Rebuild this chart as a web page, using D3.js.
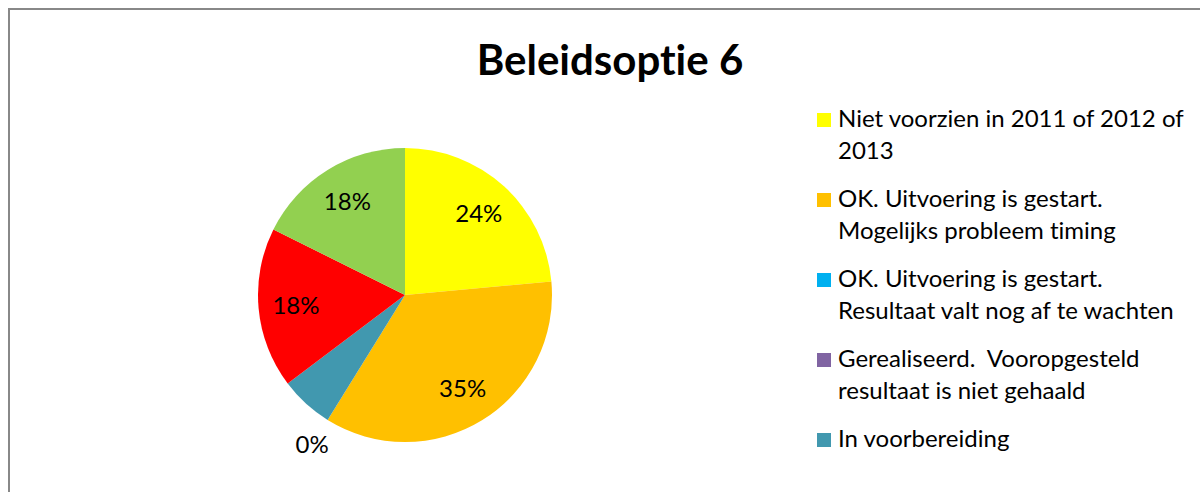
<!DOCTYPE html>
<html><head><meta charset="utf-8">
<script src="https://cdn.jsdelivr.net/npm/d3@7"></script>
<style>html,body{margin:0;padding:0;background:#fff;overflow:hidden}
text{font-variant-ligatures:none;white-space:pre}</style>
</head><body>
<svg id="c" width="1200" height="492"></svg>
<script>
const title = "Beleidsoptie 6";
const categories = [
  "Niet voorzien in 2011 of 2012 of 2013",
  "OK. Uitvoering is gestart. Mogelijks probleem timing",
  "OK. Uitvoering is gestart. Resultaat valt nog af te wachten",
  "Gerealiseerd.  Vooropgesteld resultaat is niet gehaald",
  "In voorbereiding",
  "Gerealiseerd. Vooropgesteld resultaat is gehaald",
  "Onbekend"
];
// legend entries visible in the chart (the legend box shows only the first five)
const legendLines = [
  ["Niet voorzien in 2011 of 2012 of", "2013"],
  ["OK. Uitvoering is gestart.", "Mogelijks probleem timing"],
  ["OK. Uitvoering is gestart.", "Resultaat valt nog af te wachten"],
  ["Gerealiseerd.  Vooropgesteld", "resultaat is niet gehaald"],
  ["In voorbereiding"]
];
const values = [4, 6, 0, 0, 1, 3, 3];
const shownLabels = ["24%", "35%", "0%", "", "", "18%", "18%"];
const colors = ["#FFFF00", "#FFC000", "#00B0F0", "#8064A2", "#4198AF", "#FF0000", "#92D050"];

const FONT = "Lato, 'Open Sans', sans-serif";
const svg = d3.select("#c");
svg.append("rect").attr("x", 9).attr("y", 9).attr("width", 1400).attr("height", 700)
  .attr("fill", "#fff").attr("stroke", "#888").attr("stroke-width", 2);

svg.append("text").attr("x", 610).attr("y", 75).attr("text-anchor", "middle")
  .attr("font-family", FONT).attr("font-weight", "bold")
  .attr("font-size", 42).attr("fill", "#000").text(title);

const cx = 405, cy = 295, r = 147;
const pie = d3.pie().sort(null).value(d => d)(values);
const arc = d3.arc().innerRadius(0).outerRadius(r);
const g = svg.append("g").attr("transform", `translate(${cx},${cy})`);
g.selectAll("path").data(pie).join("path")
  .attr("d", arc).attr("fill", (d, i) => colors[i]);

const inner = d3.arc().innerRadius(r * 0.745).outerRadius(r * 0.745);
const outer = d3.arc().innerRadius(r * 1.2).outerRadius(r * 1.2);
g.selectAll("text.lbl").data(pie).join("text").attr("class", "lbl")
  .attr("transform", (d, i) => {
    const p = (values[i] === 0 ? outer : inner).centroid(d);
    return `translate(${p[0]},${p[1]})`;
  })
  .attr("text-anchor", "middle").attr("dy", "0.35em")
  .attr("font-family", FONT).attr("font-size", 24)
  .attr("fill", "#000").text((d, i) => shownLabels[i]);

// legend
const lg = svg.append("g");
const lineH = 32;
let y = 127;
legendLines.forEach((lines, i) => {
  lg.append("rect").attr("x", 817).attr("y", y - 14).attr("width", 14).attr("height", 14)
    .attr("fill", colors[i]);
  const t = lg.append("text").attr("x", 838).attr("y", y)
    .attr("font-family", FONT).attr("font-size", 24).attr("fill", "#000");
  lines.forEach((ln, j) => {
    t.append("tspan").attr("x", 838).attr("y", y + j * lineH).text(ln);
  });
  y += (lines.length - 1) * lineH + 48;
});
</script>
</body></html>
